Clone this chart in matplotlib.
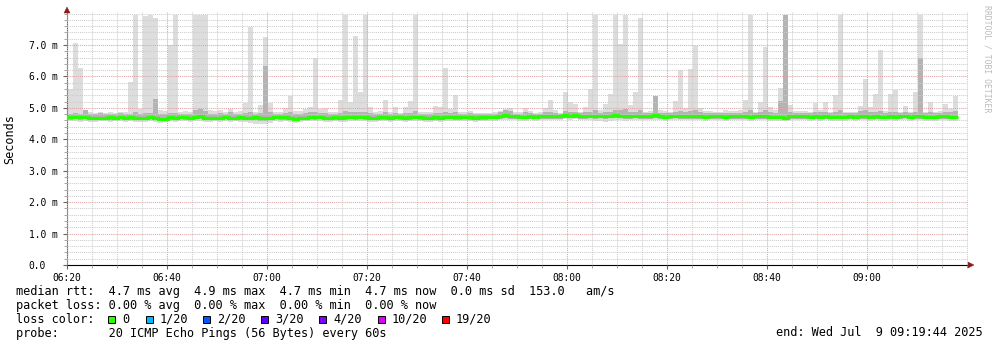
import numpy as np
import matplotlib
matplotlib.use("Agg")
import matplotlib.pyplot as plt
from matplotlib.patches import Rectangle, Polygon
from matplotlib.ticker import MultipleLocator

W, H = 997, 347
MONO = "DejaVu Sans Mono"

# smokeping data, one bin per minute starting 06:20 (values in ms)
ping_max = [
    5.60, 5.60, 7.06, 6.27, 4.88, 4.86, 4.84, 4.87, 4.85, 4.86,
    4.85, 4.88, 4.86, 5.83, 7.95, 4.95, 7.92, 7.95, 7.86, 4.92,
    4.90, 7.00, 7.95, 4.88, 4.90, 4.88, 7.95, 7.95, 7.95, 4.92,
    4.90, 4.92, 4.86, 4.95, 4.88, 4.90, 5.17, 7.56, 4.86, 5.09,
    7.27, 5.17, 4.86, 4.86, 5.00, 5.38, 4.90, 4.90, 4.96, 5.04,
    6.58, 4.96, 5.00, 4.86, 4.86, 5.25, 7.95, 5.20, 7.29, 5.52,
    7.95, 5.03, 4.86, 4.90, 5.25, 4.86, 5.02, 4.85, 5.03, 5.22,
    7.95, 4.86, 4.86, 4.86, 5.06, 5.04, 6.27, 4.96, 5.41, 4.86,
    4.88, 4.90, 4.85, 4.84, 4.85, 4.85, 4.86, 4.90, 4.96, 5.00,
    4.86, 4.86, 5.00, 4.90, 4.85, 4.86, 5.00, 5.25, 4.92, 4.85,
    5.52, 5.19, 5.13, 4.86, 5.03, 5.59, 7.95, 4.92, 5.12, 5.43,
    7.95, 7.03, 7.95, 5.09, 5.49, 7.86, 4.86, 4.90, 5.38, 4.92,
    4.90, 4.86, 5.22, 6.20, 5.00, 6.24, 6.98, 4.99, 4.90, 4.91,
    4.86, 4.86, 4.92, 4.91, 4.90, 4.92, 5.25, 7.95, 4.86, 5.18,
    6.95, 5.04, 4.92, 5.62, 7.95, 5.09, 4.90, 4.91, 4.90, 4.86,
    5.17, 4.94, 5.18, 4.86, 5.41, 7.95, 4.86, 4.88, 4.86, 5.06,
    5.92, 5.04, 5.43, 6.84, 4.90, 5.43, 5.57, 4.86, 5.06, 4.88,
    5.49, 7.95, 4.86, 5.18, 4.86, 4.91, 5.13, 4.95, 5.38,
]

smoke_hi = [
    4.82, 4.82, 4.84, 4.80, 4.92, 4.80, 4.79, 4.83, 4.82, 4.80,
    4.81, 4.84, 4.80, 4.82, 4.86, 4.80, 4.84, 4.85, 5.28, 4.82,
    4.80, 4.83, 4.85, 4.81, 4.82, 4.80, 4.92, 4.95, 4.90, 4.82,
    4.80, 4.84, 4.80, 4.86, 4.81, 4.82, 4.84, 4.86, 4.80, 4.84,
    6.33, 4.86, 4.80, 4.80, 4.84, 4.86, 4.81, 4.82, 4.84, 4.86,
    4.88, 4.85, 4.84, 4.80, 4.80, 4.84, 4.90, 4.86, 4.88, 4.86,
    4.88, 4.84, 4.80, 4.82, 4.86, 4.80, 4.84, 4.80, 4.84, 4.85,
    4.90, 4.80, 4.80, 4.82, 4.84, 4.84, 4.88, 4.84, 4.86, 4.80,
    4.82, 4.83, 4.80, 4.80, 4.80, 4.81, 4.82, 4.88, 4.92, 4.90,
    4.82, 4.82, 4.86, 4.84, 4.81, 4.82, 4.86, 4.88, 4.84, 4.82,
    4.90, 4.86, 4.88, 4.84, 4.86, 4.88, 4.92, 4.84, 4.86, 4.88,
    4.94, 4.92, 4.95, 4.86, 4.88, 4.92, 4.84, 4.84, 5.38, 4.84,
    4.84, 4.83, 4.88, 4.90, 4.86, 4.90, 4.92, 4.86, 4.84, 4.85,
    4.83, 4.83, 4.85, 4.84, 4.84, 4.85, 4.88, 4.92, 4.84, 4.88,
    4.92, 4.86, 4.84, 5.22, 7.95, 4.88, 4.84, 4.85, 4.84, 4.83,
    4.88, 4.86, 4.88, 4.83, 4.88, 4.92, 4.83, 4.84, 4.83, 4.90,
    4.92, 4.86, 4.88, 4.90, 4.84, 4.88, 4.88, 4.83, 4.86, 4.84,
    4.88, 6.58, 4.83, 4.88, 4.83, 4.85, 4.88, 4.86, 4.90,
]

smoke_lo = [
    4.62, 4.62, 4.63, 4.62, 4.64, 4.61, 4.60, 4.62, 4.63, 4.61,
    4.62, 4.63, 4.60, 4.62, 4.61, 4.60, 4.61, 4.63, 4.60, 4.59,
    4.60, 4.62, 4.62, 4.63, 4.62, 4.61, 4.63, 4.64, 4.60, 4.61,
    4.62, 4.62, 4.63, 4.61, 4.62, 4.62, 4.61, 4.60, 4.60, 4.59,
    4.58, 4.61, 4.63, 4.62, 4.62, 4.60, 4.59, 4.61, 4.62, 4.63,
    4.62, 4.64, 4.61, 4.60, 4.62, 4.61, 4.62, 4.63, 4.62, 4.63,
    4.62, 4.61, 4.61, 4.62, 4.62, 4.61, 4.63, 4.62, 4.61, 4.62,
    4.64, 4.62, 4.60, 4.61, 4.62, 4.61, 4.63, 4.63, 4.62, 4.62,
    4.63, 4.62, 4.61, 4.62, 4.62, 4.63, 4.64, 4.65, 4.67, 4.66,
    4.65, 4.64, 4.63, 4.65, 4.64, 4.65, 4.66, 4.66, 4.65, 4.66,
    4.69, 4.67, 4.68, 4.66, 4.66, 4.67, 4.66, 4.67, 4.66, 4.67,
    4.69, 4.67, 4.66, 4.66, 4.67, 4.65, 4.66, 4.65, 4.67, 4.65,
    4.64, 4.65, 4.67, 4.66, 4.65, 4.66, 4.65, 4.65, 4.64, 4.66,
    4.65, 4.65, 4.64, 4.66, 4.65, 4.66, 4.65, 4.64, 4.66, 4.65,
    4.66, 4.64, 4.63, 4.63, 4.62, 4.65, 4.66, 4.65, 4.66, 4.64,
    4.65, 4.64, 4.66, 4.64, 4.63, 4.64, 4.63, 4.65, 4.64, 4.66,
    4.65, 4.63, 4.65, 4.64, 4.63, 4.65, 4.64, 4.65, 4.67, 4.64,
    4.65, 4.66, 4.64, 4.63, 4.64, 4.65, 4.66, 4.63, 4.64,
]

ping_min = [
    4.57, 4.57, 4.58, 4.56, 4.59, 4.56, 4.55, 4.57, 4.58, 4.55,
    4.57, 4.58, 4.54, 4.57, 4.55, 4.54, 4.56, 4.58, 4.55, 4.53,
    4.55, 4.57, 4.56, 4.58, 4.57, 4.56, 4.58, 4.59, 4.54, 4.56,
    4.57, 4.56, 4.58, 4.55, 4.57, 4.56, 4.55, 4.52, 4.50, 4.49,
    4.50, 4.53, 4.57, 4.56, 4.57, 4.54, 4.53, 4.55, 4.57, 4.58,
    4.57, 4.59, 4.55, 4.54, 4.57, 4.55, 4.56, 4.58, 4.57, 4.58,
    4.57, 4.55, 4.56, 4.57, 4.57, 4.55, 4.58, 4.57, 4.55, 4.57,
    4.59, 4.57, 4.54, 4.56, 4.57, 4.55, 4.58, 4.58, 4.57, 4.57,
    4.58, 4.57, 4.56, 4.57, 4.57, 4.58, 4.59, 4.60, 4.62, 4.61,
    4.60, 4.59, 4.58, 4.60, 4.59, 4.60, 4.61, 4.61, 4.60, 4.61,
    4.64, 4.62, 4.63, 4.61, 4.61, 4.62, 4.58, 4.57, 4.55, 4.58,
    4.62, 4.60, 4.59, 4.61, 4.62, 4.60, 4.61, 4.60, 4.62, 4.60,
    4.59, 4.60, 4.62, 4.61, 4.60, 4.61, 4.60, 4.60, 4.59, 4.61,
    4.60, 4.60, 4.59, 4.61, 4.60, 4.61, 4.60, 4.59, 4.61, 4.60,
    4.61, 4.59, 4.58, 4.58, 4.57, 4.60, 4.61, 4.60, 4.61, 4.59,
    4.60, 4.59, 4.61, 4.59, 4.58, 4.59, 4.58, 4.60, 4.59, 4.61,
    4.60, 4.58, 4.60, 4.59, 4.58, 4.60, 4.59, 4.60, 4.62, 4.59,
    4.60, 4.61, 4.59, 4.58, 4.59, 4.60, 4.61, 4.58, 4.59,
]

median_rtt = [
    4.71, 4.71, 4.72, 4.70, 4.72, 4.68, 4.68, 4.68, 4.69, 4.70,
    4.69, 4.70, 4.68, 4.70, 4.69, 4.67, 4.67, 4.70, 4.68, 4.66,
    4.66, 4.70, 4.69, 4.70, 4.70, 4.69, 4.71, 4.73, 4.67, 4.68,
    4.69, 4.69, 4.70, 4.68, 4.69, 4.70, 4.68, 4.69, 4.70, 4.68,
    4.67, 4.69, 4.71, 4.70, 4.70, 4.68, 4.66, 4.68, 4.69, 4.71,
    4.70, 4.72, 4.69, 4.67, 4.70, 4.69, 4.70, 4.71, 4.70, 4.71,
    4.70, 4.68, 4.69, 4.70, 4.70, 4.69, 4.71, 4.70, 4.69, 4.70,
    4.72, 4.70, 4.68, 4.69, 4.70, 4.69, 4.71, 4.71, 4.70, 4.70,
    4.71, 4.70, 4.69, 4.70, 4.70, 4.71, 4.72, 4.73, 4.76, 4.74,
    4.73, 4.72, 4.71, 4.73, 4.72, 4.73, 4.74, 4.74, 4.73, 4.74,
    4.78, 4.75, 4.76, 4.74, 4.74, 4.75, 4.74, 4.75, 4.74, 4.75,
    4.78, 4.75, 4.74, 4.74, 4.75, 4.73, 4.74, 4.73, 4.76, 4.73,
    4.72, 4.73, 4.75, 4.74, 4.73, 4.74, 4.73, 4.73, 4.72, 4.74,
    4.73, 4.73, 4.72, 4.74, 4.73, 4.74, 4.73, 4.72, 4.74, 4.73,
    4.74, 4.72, 4.71, 4.71, 4.69, 4.73, 4.74, 4.73, 4.74, 4.72,
    4.73, 4.72, 4.74, 4.72, 4.71, 4.72, 4.71, 4.73, 4.72, 4.74,
    4.73, 4.71, 4.73, 4.72, 4.71, 4.73, 4.72, 4.73, 4.75, 4.72,
    4.73, 4.74, 4.72, 4.71, 4.72, 4.73, 4.74, 4.71, 4.72,
]

tick_labels = ["06:20", "06:40", "07:00", "07:20", "07:40",
               "08:00", "08:20", "08:40", "09:00"]
y_labels = ["0.0", "1.0 m", "2.0 m", "3.0 m", "4.0 m", "5.0 m", "6.0 m", "7.0 m"]

loss_names = ["0", "1/20", "2/20", "3/20", "4/20", "10/20", "19/20"]
loss_colors = ["#26ff00", "#00b8ff", "#0059ff", "#5e00ff", "#7e00ff", "#dd00ff", "#ff0000"]


def fx(px):
    return px / W


def fy(py):
    return 1 - py / H


fig = plt.figure(figsize=(W / 100, H / 100), dpi=100)
fig.patch.set_facecolor("white")
ax = fig.add_axes([fx(67), fy(265), fx(901), 253 / H])

n = len(ping_max)
# bins are one minute wide, boundaries sit at :12 past the minute
edges = np.arange(n + 1) - 0.8

ax.stairs(ping_max, edges, baseline=ping_min, fill=True, color="#dddddd", lw=0, zorder=1)
ax.stairs(smoke_hi, edges, baseline=smoke_lo, fill=True, color="#b4b4b4", lw=0, zorder=2)
ax.stairs(median_rtt, edges, baseline=None, color="#26ff00", lw=2.3, zorder=4)

ax.set_xlim(0, 180.2)
ax.set_ylim(0, 8.05)

ax.xaxis.set_major_locator(MultipleLocator(20))
ax.xaxis.set_minor_locator(MultipleLocator(5))
ax.yaxis.set_major_locator(MultipleLocator(1))
ax.yaxis.set_minor_locator(MultipleLocator(0.2))
ax.set_xticks(np.arange(len(tick_labels)) * 20)
ax.set_xticklabels(tick_labels, family=MONO, fontsize=6.9)
ax.set_yticks(np.arange(len(y_labels)))
ax.set_yticklabels(y_labels, family=MONO, fontsize=6.9)
for lab in ax.get_yticklabels():
    lab.set_horizontalalignment("left")

ax.tick_params(axis="y", which="major", length=3, pad=24.5, color="#666666")
ax.tick_params(axis="y", which="minor", length=2, color="#999999")
ax.tick_params(axis="x", which="major", length=3, pad=3, color="#666666")
ax.tick_params(axis="x", which="minor", length=2, color="#999999")

ax.grid(which="minor", color="#cccccc", ls=(0, (1, 1)), lw=0.75)
ax.grid(which="major", color="#e0a3a3", ls=(0, (1, 1)), lw=0.75)
ax.set_axisbelow(False)

for s in ["top", "right"]:
    ax.spines[s].set_visible(False)
ax.spines["left"].set_color("#7a5a5a")
ax.spines["bottom"].set_color("#000000")
ax.spines["left"].set_linewidth(0.8)
ax.spines["bottom"].set_linewidth(0.8)

# little arrow heads at the axis ends
arrow = "#8b1a1a"
fig.add_artist(Polygon([(fx(64), fy(13)), (fx(70), fy(13)), (fx(67), fy(7))],
                       closed=True, fc=arrow, ec=arrow, lw=0.3, transform=fig.transFigure))
fig.add_artist(Polygon([(fx(968), fy(262)), (fx(968), fy(268)), (fx(974), fy(265))],
                       closed=True, fc=arrow, ec=arrow, lw=0.3, transform=fig.transFigure))

fig.text(fx(10), fy(139), "Seconds", rotation=90, ha="center", va="center",
         family=MONO, fontsize=8.5)
fig.text(fx(987), fy(5), "RRDTOOL / TOBI OETIKER", rotation=270, ha="center", va="top",
         family=MONO, fontsize=5.9, color="#bbbbbb")

# legend block under the chart
fs = 8.55
fig.text(fx(16), fy(291.5),
         "median rtt:  4.7 ms avg  4.9 ms max  4.7 ms min  4.7 ms now  0.0 ms sd  153.0   am/s",
         family=MONO, fontsize=fs, va="center")
fig.text(fx(16), fy(305.5),
         "packet loss: 0.00 % avg  0.00 % max  0.00 % min  0.00 % now",
         family=MONO, fontsize=fs, va="center")
fig.text(fx(16), fy(319.5), "loss color:", family=MONO, fontsize=fs, va="center")
sq_x = [108, 146, 203, 261, 319, 378, 442]
lab_x = [122, 160, 217, 275, 333, 392, 456]
for name, col, sx, lx in zip(loss_names, loss_colors, sq_x, lab_x):
    fig.add_artist(Rectangle((fx(sx), fy(323)), 7 / W, 7 / H, fc=col, ec="black",
                             lw=0.7, transform=fig.transFigure))
    fig.text(fx(lx), fy(319.5), name, family=MONO, fontsize=fs, va="center")
fig.text(fx(16), fy(333), "probe:       20 ICMP Echo Pings (56 Bytes) every 60s",
         family=MONO, fontsize=fs, va="center")
fig.text(fx(983), fy(333), "end: Wed Jul  9 09:19:44 2025",
         family=MONO, fontsize=fs, va="center", ha="right")

fig.savefig("out.png", dpi=100, facecolor="white")
